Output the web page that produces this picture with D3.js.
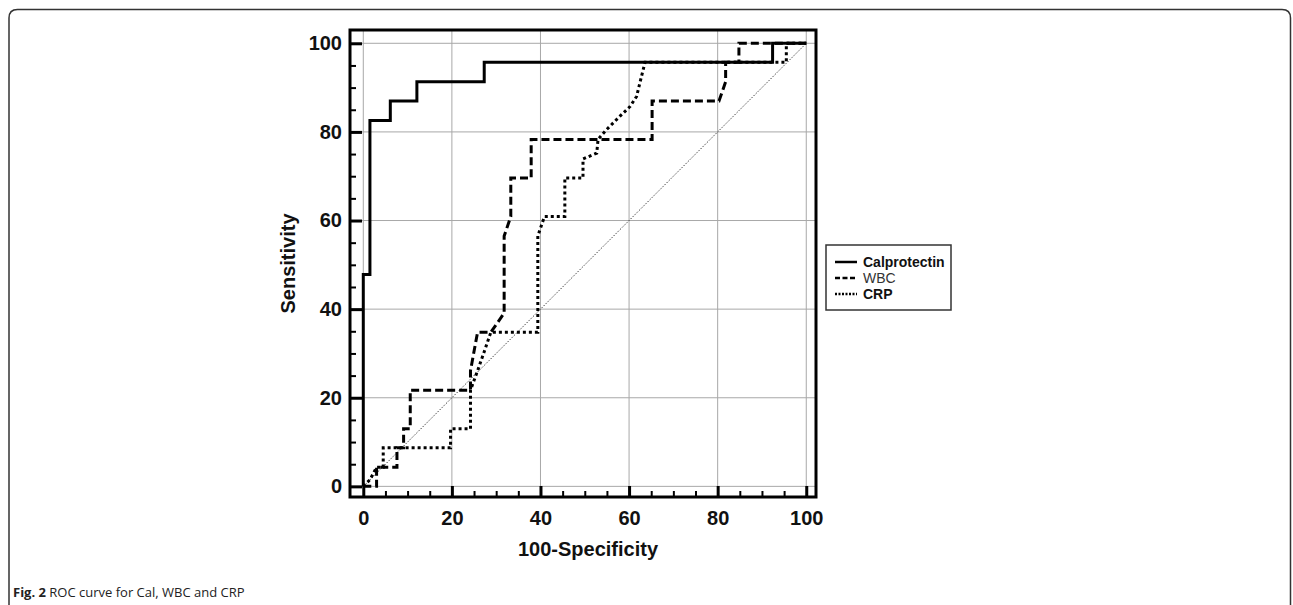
<!DOCTYPE html>
<html>
<head>
<meta charset="utf-8">
<script src="https://cdn.jsdelivr.net/npm/d3@7"></script>
<style>
  body { margin: 0; background: #fff; }
  svg { display: block; }
</style>
</head>
<body>
<svg id="chart" width="1293" height="605"></svg>
<script>
// ROC points (x = 100-Specificity, y = Sensitivity)
const calprotectinX = [0, 0, 1.5, 1.5, 6.1, 6.1, 12.1, 12.1, 27.3, 27.3, 92.4, 92.4, 100];
const calprotectinY = [0, 47.8, 47.8, 82.6, 82.6, 87.0, 87.0, 91.3, 91.3, 95.7, 95.7, 100, 100];

const wbcX = [0, 3.0, 3.0, 7.6, 7.6, 9.1, 9.1, 10.6, 10.6, 22.7, 24.2, 24.2, 25.8, 28.8, 31.8, 31.8, 33.3, 33.3, 37.9, 37.9, 65.2, 65.2, 80.3, 81.8, 81.8, 84.8, 84.8, 100];
const wbcY = [0, 0, 4.3, 4.3, 8.7, 8.7, 13.0, 13.0, 21.7, 21.7, 21.7, 26.1, 34.8, 34.8, 39.1, 56.5, 60.9, 69.6, 69.6, 78.3, 78.3, 87.0, 87.0, 91.3, 95.7, 95.7, 100, 100];

const crpX = [0, 1.5, 3.0, 4.5, 4.5, 19.7, 19.7, 24.2, 24.2, 25.8, 27.3, 28.8, 39.4, 39.4, 40.9, 45.5, 45.5, 49.6, 49.6, 52.7, 53.0, 54.9, 57.9, 60.2, 61.7, 62.5, 63.6, 95.5, 95.5, 100];
const crpY = [0, 1.5, 4.3, 4.3, 8.7, 8.7, 13.0, 13.0, 21.7, 26.1, 30.4, 34.8, 34.8, 56.5, 60.9, 60.9, 69.6, 69.6, 73.9, 75.2, 78.3, 80.5, 83.5, 85.7, 88.0, 91.3, 95.7, 95.7, 100, 100];

const majorTicks = [0, 20, 40, 60, 80, 100];
const minorTicks = d3.range(0, 101, 5).filter(v => v % 20 !== 0);

const legendNames = ["Calprotectin", "WBC", "CRP"];

const svg = d3.select("#chart");

// outer figure border (rounded, open at the bottom)
svg.append("path")
  .attr("d", "M9,620 L9,18 Q9,9.5 17.5,9.5 L1282,9.5 Q1290.5,9.5 1290.5,18 L1290.5,620")
  .attr("fill", "none")
  .attr("stroke", "#333")
  .attr("stroke-width", 1.5);

const frame = { left: 350, right: 816, top: 30, bottom: 497 };

const x = d3.scaleLinear().domain([-3, 102.2]).range([frame.left, frame.right]);
const y = d3.scaleLinear().domain([-2.4, 103]).range([frame.bottom, frame.top]);

const g = svg.append("g");

// grid
g.selectAll(".gx").data(majorTicks).enter().append("line")
  .attr("x1", d => x(d)).attr("x2", d => x(d))
  .attr("y1", frame.top).attr("y2", frame.bottom)
  .attr("stroke", "#a8a8a8").attr("stroke-width", 1);
g.selectAll(".gy").data(majorTicks).enter().append("line")
  .attr("y1", d => y(d)).attr("y2", d => y(d))
  .attr("x1", frame.left).attr("x2", frame.right)
  .attr("stroke", "#a8a8a8").attr("stroke-width", 1);

// reference diagonal
g.append("line")
  .attr("x1", x(0)).attr("y1", y(0))
  .attr("x2", x(100)).attr("y2", y(100))
  .attr("stroke", "#444").attr("stroke-width", 1)
  .attr("stroke-dasharray", "1.5,1.5");

const line = d3.line().x(d => x(d[0])).y(d => y(d[1]));

g.append("path")
  .datum(d3.zip(crpX, crpY))
  .attr("d", line)
  .attr("fill", "none").attr("stroke", "#000")
  .attr("stroke-width", 3).attr("stroke-dasharray", "3,3");

g.append("path")
  .datum(d3.zip(wbcX, wbcY))
  .attr("d", line)
  .attr("fill", "none").attr("stroke", "#000")
  .attr("stroke-width", 3).attr("stroke-dasharray", "8,4");

g.append("path")
  .datum(d3.zip(calprotectinX, calprotectinY))
  .attr("d", line)
  .attr("fill", "none").attr("stroke", "#000")
  .attr("stroke-width", 3);

// frame
g.append("rect")
  .attr("x", frame.left).attr("y", frame.top)
  .attr("width", frame.right - frame.left)
  .attr("height", frame.bottom - frame.top)
  .attr("fill", "none").attr("stroke", "#000").attr("stroke-width", 3);

// axes, ticks pointing inwards
const font = "'Liberation Sans', Arial, sans-serif";

const yAxis = g.append("g")
  .attr("transform", `translate(${frame.left},0)`)
  .call(d3.axisLeft(y).tickValues(majorTicks).tickSize(-12).tickPadding(8));
const yMinor = g.append("g")
  .attr("transform", `translate(${frame.left},0)`)
  .call(d3.axisLeft(y).tickValues(minorTicks).tickSize(-6).tickFormat(""));

const xAxis = g.append("g")
  .attr("transform", `translate(0,${frame.bottom})`)
  .call(d3.axisBottom(x).tickValues(majorTicks).tickSize(-11).tickPadding(14));
const xMinor = g.append("g")
  .attr("transform", `translate(0,${frame.bottom})`)
  .call(d3.axisBottom(x).tickValues(minorTicks).tickSize(-6).tickFormat(""));

[yAxis, yMinor, xAxis, xMinor].forEach(a => a.select(".domain").remove());
[yAxis, xAxis].forEach(a => {
  a.selectAll(".tick line").attr("stroke", "#000").attr("stroke-width", 3);
  a.selectAll(".tick text")
    .attr("fill", "#111")
    .style("font-family", font)
    .style("font-weight", "bold")
    .style("font-size", "20px");
});
[yMinor, xMinor].forEach(a => {
  a.selectAll(".tick line").attr("stroke", "#000").attr("stroke-width", 2);
});

// axis titles
svg.append("text")
  .attr("x", (frame.left + frame.right) / 2 + 5)
  .attr("y", 556)
  .attr("text-anchor", "middle")
  .style("font-family", font).style("font-weight", "bold").style("font-size", "20px")
  .attr("fill", "#111")
  .text("100-Specificity");

svg.append("text")
  .attr("transform", `translate(295,${(frame.top + frame.bottom) / 2}) rotate(-90)`)
  .attr("text-anchor", "middle")
  .style("font-family", font).style("font-weight", "bold").style("font-size", "20px")
  .attr("fill", "#111")
  .text("Sensitivity");

// legend
const legend = svg.append("g").attr("transform", "translate(826,245)");
legend.append("rect")
  .attr("width", 125).attr("height", 65)
  .attr("fill", "#fff").attr("stroke", "#333").attr("stroke-width", 1.5);

const legendStyles = [
  { dash: null, weight: "bold", color: "#111" },
  { dash: "5,2.5", weight: "normal", color: "#333" },
  { dash: "2,1.5", weight: "bold", color: "#111" }
];

const rows = legend.selectAll(".row").data(legendNames).enter().append("g")
  .attr("transform", (d, i) => `translate(0,${17 + i * 16})`);
rows.append("line")
  .attr("x1", 9).attr("x2", 31)
  .attr("stroke", "#000").attr("stroke-width", 2.5)
  .attr("stroke-dasharray", (d, i) => legendStyles[i].dash);
rows.append("text")
  .attr("x", 37).attr("dy", "0.35em")
  .style("font-family", font).style("font-size", "14px")
  .style("font-weight", (d, i) => legendStyles[i].weight)
  .attr("fill", (d, i) => legendStyles[i].color)
  .text(d => d);

// caption
const cap = svg.append("text")
  .attr("x", 13).attr("y", 597)
  .style("font-family", "'Open Sans', 'Noto Sans', sans-serif")
  .style("font-size", "13px")
  .attr("fill", "#222");
cap.append("tspan").style("font-weight", "bold").text("Fig. 2");
cap.append("tspan").text(" ROC curve for Cal, WBC and CRP");
</script>
</body>
</html>
